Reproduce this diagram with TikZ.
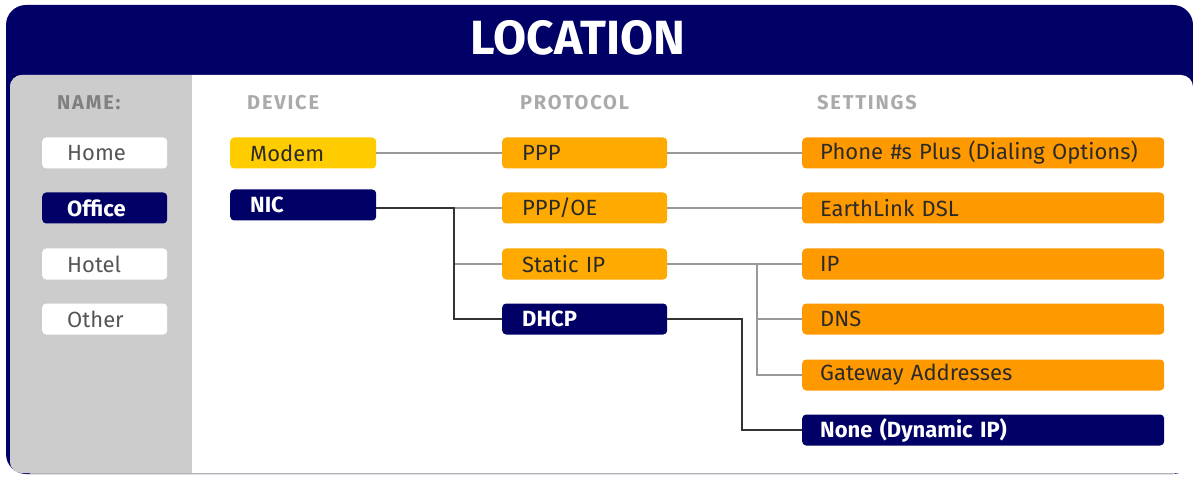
\documentclass[tikz,border=0pt]{standalone}
\usepackage{fontspec}
\setmainfont{Fira Sans}
\newfontfamily\hdfont[LetterSpace=9]{Fira Sans}
\definecolor{navy}{HTML}{000066}
\definecolor{panel}{HTML}{CCCCCC}
\definecolor{yel}{HTML}{FFCC00}
\definecolor{amb}{HTML}{FFAA00}
\definecolor{org}{HTML}{FF9900}
\definecolor{hdr}{HTML}{AAAAAA}
\definecolor{txt}{HTML}{2A2A2A}
\begin{document}
\begin{tikzpicture}[x=1pt,y=-1pt,
  bx/.style={anchor=west,rounded corners=4pt,minimum height=31pt,align=left,inner ysep=0pt,font=\fontsize{22}{23}\selectfont},
  namebox/.style={bx,fill=white,text=txt!80,inner xsep=25pt,text width=75pt},
  namesel/.style={bx,fill=navy,text=white,inner xsep=25pt,text width=75pt,font=\fontsize{22}{23}\selectfont\bfseries},
  devbox/.style={bx,inner xsep=20pt,text width=106pt},
  probox/.style={bx,fill=amb,text=txt,inner xsep=20pt,text width=125pt},
  setbox/.style={bx,fill=org,text=txt,inner xsep=18pt,text width=326pt},
  selbox/.style={fill=navy,text=white,font=\fontsize{22}{23}\selectfont\bfseries},
  hd/.style={anchor=west,text=hdr,font=\hdfont\fontsize{20}{21}\selectfont\bfseries,inner sep=0pt},
  lite/.style={draw=black!40,line width=1.6pt},
  dark/.style={draw=black!80,line width=2.2pt}]
\useasboundingbox (0,0) rectangle (1193,478);
% frame
\fill[navy,rounded corners=20pt] (6,5) rectangle (1193,474);
\fill[white,rounded corners=12pt] (10,75) rectangle (1193,473);
\begin{scope}
\clip[rounded corners=12pt] (10,75) rectangle (1193,473);
\fill[panel] (10,75) rectangle (192,473);
\end{scope}
\draw[black!30,line width=0.6pt] (30,473.5) -- (1175,473.5);
\node[text=white,font=\fontsize{48}{50}\selectfont\bfseries] (title) at (578,38) {LOCATION};
% headers
\node[hd,text=black!50] (hname) at (57,103) {NAME:};
\node[hd] (hdev) at (247,103) {DEVICE};
\node[hd] (hpro) at (520,103) {PROTOCOL};
\node[hd] (hset) at (817,103) {SETTINGS};
% names
\node[namebox] (home) at (42,153) {Home};
\node[namesel] (office) at (42,208) {Office};
\node[namebox] (hotel) at (42,264) {Hotel};
\node[namebox] (other) at (42,319) {Other};
% devices
\node[devbox,fill=yel,text=txt] (modem) at (230,153) {Modem};
\node[devbox,selbox] (nic) at (230,205) {NIC};
\coordinate (nicr) at (376,208);
% protocols
\node[probox] (ppp) at (502,153) {PPP};
\node[probox] (pppoe) at (502,208) {PPP/OE};
\node[probox] (static) at (502,264) {Static IP};
\node[probox,selbox] (dhcp) at (502,319) {DHCP};
% settings
\node[setbox] (phone) at (802,153) {Phone \#s Plus (Dialing Options)};
\node[setbox] (earth) at (802,208) {EarthLink DSL};
\node[setbox] (ip) at (802,264) {IP};
\node[setbox] (dns) at (802,319) {DNS};
\node[setbox] (gw) at (802,375) {Gateway Addresses};
\node[setbox,selbox] (none) at (802,430) {None (Dynamic IP)};
% connectors
\coordinate (b1) at (454,208);
\coordinate (b2) at (757,264);
\coordinate (b3) at (742,319);
\draw[lite] (modem.east) -- (ppp.west);
\draw[lite] (ppp.east) -- (phone.west);
\draw[lite] (b1) -- (pppoe.west);
\draw[lite] (b1 |- static.west) -- (static.west);
\draw[lite] (pppoe.east) -- (earth.west);
\draw[lite] (static.east) -- (ip.west);
\draw[lite] (b2) |- (gw.west);
\draw[lite] (b2 |- dns.west) -- (dns.west);
\draw[dark] (nicr) -- (b1) |- (dhcp.west);
\draw[dark] (dhcp.east) -- (b3) |- (none.west);
\end{tikzpicture}
\end{document}
